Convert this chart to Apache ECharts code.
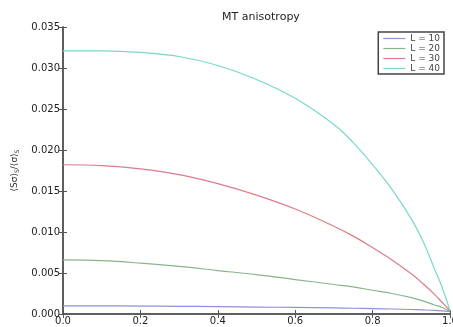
<!DOCTYPE html>
<html>
<head>
<meta charset="utf-8">
<script src="https://cdn.jsdelivr.net/npm/echarts@6/dist/echarts.min.js"></script>
<style>
  html, body { margin:0; padding:0; background:#fff; }
  #chart { width:453px; height:327px; }
</style>
</head>
<body>
<div id="chart"></div>
<script>
// ---------- data ----------
const xs = [0, 0.1, 0.2, 0.3, 0.4, 0.5, 0.6, 0.7, 0.75, 0.8, 0.85, 0.9, 0.93, 0.96, 0.98, 1.0];
const L10 = [0.00100, 0.00099, 0.00097, 0.00094, 0.00090, 0.00085, 0.00080, 0.00074, 0.00070, 0.00066, 0.00061, 0.00055, 0.00050, 0.00044, 0.00038, 0.00030];
const L20 = [0.0066, 0.0065, 0.0062, 0.0058, 0.0053, 0.0048, 0.0042, 0.0036, 0.0033, 0.0029, 0.0025, 0.0020, 0.0016, 0.0011, 0.0008, 0.0003];
const L30 = [0.0182, 0.0181, 0.0177, 0.0170, 0.0159, 0.0145, 0.0128, 0.0107, 0.0095, 0.0081, 0.0066, 0.0049, 0.0037, 0.0024, 0.0014, 0.0004];
const L40 = [0.0321, 0.0321, 0.0319, 0.0314, 0.0303, 0.0286, 0.0263, 0.0231, 0.0209, 0.0182, 0.0152, 0.0116, 0.0089, 0.0055, 0.0032, 0.0004];
const names = ['L = 10', 'L = 20', 'L = 30', 'L = 40'];
const colors = ['#9090d8', '#88b48c', '#e07a88', '#78d8c8'];

const chart = echarts.init(document.getElementById('chart'), null, { renderer: 'canvas' });

const pairs = arr => xs.map((x, i) => [x, arr[i]]);
const font = 'DejaVu Sans';
const frame = '#555';

const series = [L10, L20, L30, L40].map((arr, i) => ({
  name: names[i],
  type: 'line',
  data: pairs(arr),
  smooth: 0.4,
  symbol: 'none',
  lineStyle: { color: colors[i], width: 1.2 },
  itemStyle: { color: colors[i] }
}));

chart.setOption({
  animation: false,
  title: {
    text: 'MT anisotropy',
    left: 256, top: 7, textAlign: 'center',
    textStyle: { fontFamily: font, fontSize: 11, fontWeight: 'normal', color: '#222' }
  },
  legend: {
    orient: 'vertical',
    right: 9, top: 32,
    icon: 'rect',
    itemWidth: 22, itemHeight: 1.2,
    itemGap: 1,
    padding: [2, 4, 1, 5],
    borderColor: '#444', borderWidth: 1.5,
    textStyle: { fontFamily: font, fontSize: 9, color: '#444', lineHeight: 8 },
    data: names
  },
  grid: { left: 63, right: 3, top: 27, bottom: 13, outerBoundsMode: 'none' },
  xAxis: [{
    type: 'value', min: 0, max: 1, interval: 0.2,
    axisLine: { onZero: false, lineStyle: { color: frame, width: 1.5 } },
    axisTick: { inside: true, length: 4, lineStyle: { color: frame } },
    axisLabel: { fontFamily: font, fontSize: 10, color: '#222', margin: 2,
      formatter: v => v.toFixed(1) },
    splitLine: { show: false }
  }, {
    type: 'value', min: 0, max: 1, interval: 0.2, position: 'top',
    axisLine: { show: true, lineStyle: { color: frame, width: 1.5 } },
    axisTick: { inside: true, length: 4, lineStyle: { color: frame } },
    axisLabel: { show: false },
    splitLine: { show: false }
  }],
  yAxis: [{
    type: 'value', min: 0, max: 0.035, interval: 0.005,
    name: '{a|⟨Sσ⟩}{s|S}{a|/⟨σ⟩}{s|S}',
    nameLocation: 'middle', nameGap: 40,
    nameTextStyle: {
      rich: {
        a: { fontFamily: font, fontSize: 9, color: '#333' },
        s: { fontFamily: font, fontSize: 6, color: '#333', verticalAlign: 'bottom', padding: [6, 0, 0, 0] }
      }
    },
    axisLine: { show: true, lineStyle: { color: frame, width: 1.5 } },
    axisTick: { show: true, inside: true, length: 4, lineStyle: { color: frame } },
    axisLabel: { fontFamily: font, fontSize: 10, color: '#222', margin: 3,
      formatter: v => v.toFixed(3) },
    splitLine: { show: false }
  }, {
    type: 'value', min: 0, max: 0.035, interval: 0.005, position: 'right',
    axisLine: { show: true, lineStyle: { color: frame, width: 1.5 } },
    axisTick: { show: true, inside: true, length: 4, lineStyle: { color: frame } },
    axisLabel: { show: false },
    splitLine: { show: false }
  }],
  series
});
</script>
</body>
</html>
